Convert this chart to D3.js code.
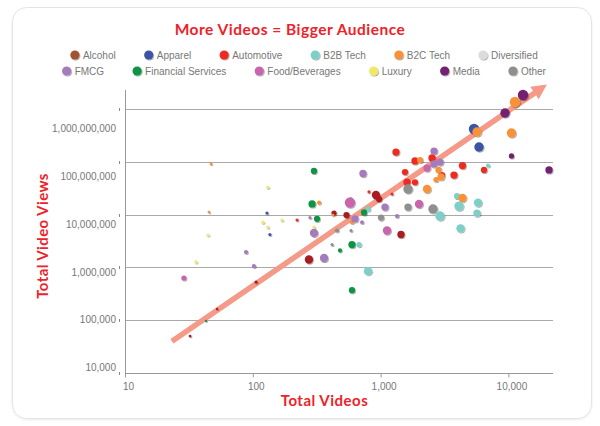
<!DOCTYPE html>
<html><head><meta charset="utf-8">
<script src="https://cdn.jsdelivr.net/npm/d3@7"></script>
<style>body{margin:0;background:#fff}svg{display:block}</style>
</head><body><svg id="c" width="600" height="426"></svg>
<script>
// ---------- DATA ----------
const categories = ["Alcohol","Apparel","Automotive","B2B Tech","B2C Tech","Diversified",
  "FMCG","Financial Services","Food/Beverages","Luxury","Media","Other"];
const legendRows = [categories.slice(0,6), categories.slice(6)];
const xTickValues = [10,100,1000,10000];
const yTickValues = [1e4,1e5,1e6,1e7,1e8,1e9];

// point series (index into categories), total videos, total video views, bubble size
const pointSeries = [
  0,0,0,0,0,0,0,0,0,
  1,1,1,1,1,
  2,2,2,2,2,2,2,2,2,2,2,2,2,
  3,3,3,3,3,3,3,3,3,3,
  4,4,4,4,4,4,4,4,4,4,4,4,4,4,
  6,6,6,6,6,6,6,6,6,6,6,6,6,
  7,7,7,7,7,7,7,7,
  8,8,8,8,8,
  9,9,9,9,9,9,9,
  10,10,10,10,
  11,11,11,11,11,11,11
];
const pointVideos = [
  106,275,432,541,920,972,1444,52.5,32.3,
  129,136,587,5381,5889,
  222,811,1228,1319,1858,2525,3023,3752,1552,1609,1858,4373,6444,
  797,678,797,2916,3962,4107,5783,5680,4220,6925,
  47.1,45.4,330,424,597,2034,2839,2969,2714,2308,4373,5680,10570,11260,
  88.5,102,280,301,361,728,630,715,1082,1344,2617,2617,2916,
  301,291,318,742,597,481,597,43,
  28.9,576,1122,1998,2308,
  131,120,131,169,301,44.6,35.9,
  13010,9406,10570,20790,
  456,417,587,1007,1638,1638,2570
];
const pointViews = [
  5.3e5,1.41e6,1.07e7,9.8e6,2.35e7,1.97e7,4.2e6,1.63e5,5.0e4,
  1.07e7,4.2e6,1.97e7,4.18e8,1.91e8,
  7.9e6,2.7e7,2.45e7,1.53e8,1.04e8,1.18e8,5.6e7,5.6e7,6.4e7,4.1e7,4.1e7,8.5e7,7.0e7,
  1.28e7,2.7e6,8.5e5,9.4e6,2.25e7,1.45e7,1.69e7,1.07e7,5.5e6,8.5e7,
  9.1e7,1.12e7,1.69e7,9.8e6,7.2e6,1.08e8,7.0e7,5.2e7,4.6e7,3.05e7,2.06e7,3.67e8,3.51e8,1.36e9,
  1.96e6,1.06e6,8.8e6,4.5e6,1.51e6,6.0e7,8.3e6,7.2e6,1.39e7,9.4e6,1.6e8,9.1e7,9.9e7,
  6.7e7,1.59e7,8.3e6,1.1e7,2.7e6,2.1e6,3.7e5,9.7e4,
  6.3e5,1.69e7,5.0e6,1.59e7,7.6e7,
  3.3e7,7.2e6,5.8e6,7.9e6,5.8e6,4.1e6,1.27e6,
  1.84e9,8.4e8,1.29e8,7.0e7,
  5.0e6,2.7e6,5.0e6,8.8e6,3.05e7,1.39e7,1.28e7
];
const pointSize = [
  0.9,6.4,2.5,3.6,6.4,3.6,4.9,0.5,0.7,
  0.9,0.9,0.9,10,8.1,
  0.9,0.9,0.9,4.9,4.9,4.9,3.6,4.9,3.6,4.9,3.6,4.9,3.6,
  2.5,2.5,6.4,8.1,3.6,8.1,6.4,4.9,6.4,1.6,
  0.7,0.7,1.6,0.7,1.6,3.6,3.6,4.9,2.5,6.4,6.4,8.1,8.1,10,
  1.6,1.6,0.9,6.4,6.4,4.9,4.9,1.3,4.9,1.6,4.9,4.9,4.9,
  3.6,4.9,3.6,3.6,4.9,1.6,3.6,0.5,
  2.5,10,6.4,6.4,4.9,
  0.9,0.9,0.9,0.9,0.9,0.9,0.9,
  10,8.1,2.5,4.9,
  1.6,0.9,0.9,3.6,8.1,4.9,8.1
];
// trend arrow (start, end) in data units
const trendVideos = [23.3, 20000];
const trendViews = [4.0e4, 2.9e9];

(function(){
// ---------- STYLE ----------
const colors = ["#a91d22","#3b55a4","#ee2a24","#7fcfc9","#f7923a","#dcdcdc",
  "#a57bbb","#0f9445","#c866ac","#f0e868","#72216f","#8f8f8f"];
const legendColors = colors.slice(); legendColors[0] = "#a0552f";
const RED = "#ee2229";
const labelFont = "'Liberation Sans', Arial, sans-serif";
const titleFont = "Lato, 'Open Sans', sans-serif";

const svg = d3.select("#c");
const defs = svg.append("defs");
const f = defs.append("filter").attr("id","sh").attr("x","-50%").attr("y","-50%").attr("width","200%").attr("height","200%");
f.append("feDropShadow").attr("dx",0.8).attr("dy",1).attr("stdDeviation",0.7)
  .attr("flood-color","#000").attr("flood-opacity",0.35);
const fc = defs.append("filter").attr("id","card").attr("x","-5%").attr("y","-5%").attr("width","110%").attr("height","110%");
fc.append("feDropShadow").attr("dx",0).attr("dy",1).attr("stdDeviation",1.2)
  .attr("flood-color","#000").attr("flood-opacity",0.08);

// card
svg.append("rect").attr("x",12.5).attr("y",7.5).attr("width",579).attr("height",411)
  .attr("rx",14).attr("fill","#fff").attr("stroke","#e4e4e4").attr("filter","url(#card)");

// title
svg.append("text").attr("x",290).attr("y",34.5).attr("text-anchor","middle")
  .attr("fill",RED).style("font-family",titleFont).style("font-weight","bold").style("font-size","15.5px")
  .style("letter-spacing","0.5px")
  .text("More Videos = Bigger Audience");

// scales
const pLeft = 125, pRight = 553, pTop = 90, pBottom = 373;
const x = d3.scaleLog().domain([10,10000]).range([pLeft,508.4]);
const y = d3.scaleLog().domain([1e4,1e9]).range([pBottom,109]);
const yLab = d3.scaleLog().domain([1e4,1e9]).range([367.5,128.5]);
const r = d3.scaleSqrt().domain([0,10]).range([0,5.2]);

// gridlines
svg.append("g").selectAll("line").data(yTickValues.slice(1)).join("line")
  .attr("x1",pLeft).attr("x2",pRight)
  .attr("y1",d=>Math.round(y(d))+0.5).attr("y2",d=>Math.round(y(d))+0.5)
  .attr("stroke","#a9a9a9");
// small y tick marks
svg.append("g").selectAll("line").data(yTickValues).join("line")
  .attr("x1",119.5).attr("x2",119.5)
  .attr("y1",d=>Math.round(y(d))-1).attr("y2",d=>Math.round(y(d))+2)
  .attr("stroke","#888");
// y labels
const yAx = svg.append("g").attr("transform",`translate(${pLeft},0)`)
  .call(d3.axisLeft(yLab).tickValues(yTickValues).tickSize(0).tickPadding(9).tickFormat(d3.format(",")));
yAx.select(".domain").remove();
yAx.selectAll("text").attr("fill","#777").style("font-family",labelFont).style("font-size","10px");

// axis lines
svg.append("line").attr("x1",pLeft+0.5).attr("x2",pLeft+0.5).attr("y1",pTop).attr("y2",pBottom).attr("stroke","#999");
const xAx = svg.append("g").attr("transform",`translate(0,${pBottom+0.5})`)
  .call(d3.axisBottom(x).tickValues(xTickValues).tickSize(4).tickPadding(5).tickFormat(d3.format(",")));
xAx.select(".domain").attr("d",`M${pLeft},0H${pRight}`).attr("stroke","#999");
xAx.selectAll(".tick line").attr("stroke","#999");
xAx.selectAll("text").attr("x",3).attr("fill","#777").style("font-family",labelFont).style("font-size","10px");

// axis titles
svg.append("text").attr("x",324.5).attr("y",405.5).attr("text-anchor","middle").attr("fill",RED)
  .style("font-family",titleFont).style("font-weight","bold").style("font-size","15px")
  .style("letter-spacing","0.5px").text("Total Videos");
svg.append("text").attr("transform","translate(48,236) rotate(-90)").attr("text-anchor","middle").attr("fill",RED)
  .style("font-family",titleFont).style("font-weight","bold").style("font-size","15px")
  .style("letter-spacing","0.4px").text("Total Video Views");

// trend arrow
const p0 = [x(trendVideos[0]), y(trendViews[0])], p1 = [x(trendVideos[1]), y(trendViews[1])];
const ang = Math.atan2(p1[1]-p0[1], p1[0]-p0[0]);
const headL = 15, headW = 7.5;
const bx = p1[0]-headL*Math.cos(ang), by = p1[1]-headL*Math.sin(ang);
const arrowCol = "#f59a89";
svg.append("line").attr("x1",p0[0]).attr("y1",p0[1]).attr("x2",bx+2*Math.cos(ang)).attr("y2",by+2*Math.sin(ang))
  .attr("stroke",arrowCol).attr("stroke-width",5.5);
svg.append("polygon").attr("fill",arrowCol).attr("points",[
  [p1[0],p1[1]],
  [bx+headW*Math.sin(ang), by-headW*Math.cos(ang)],
  [bx-headW*Math.sin(ang), by+headW*Math.cos(ang)]
].map(p=>p.join(",")).join(" "));

// points
const idx = d3.range(pointSeries.length);
svg.append("g").attr("filter","url(#sh)").selectAll("circle").data(idx).join("circle")
  .attr("cx",i=>x(pointVideos[i])).attr("cy",i=>y(pointViews[i]))
  .attr("r",i=>r(pointSize[i])).attr("fill",i=>colors[pointSeries[i]]);

// legend
const legendY = [55,71];
legendRows.forEach((row,ri)=>{
  const g = svg.append("g");
  let cx = 0;
  row.forEach((name)=>{
    const ci = categories.indexOf(name);
    const it = g.append("g").attr("transform",`translate(${cx},${legendY[ri]})`);
    it.append("circle").attr("r",4.6).attr("fill",legendColors[ci]).attr("filter","url(#sh)");
    const t = it.append("text").attr("x",8).attr("dy","0.35em").attr("fill","#777")
      .style("font-family",labelFont).style("font-size","10px").text(name);
    cx += 8 + t.node().getComputedTextLength() + 33;
  });
  const total = cx - 33 + 4.6;
  g.attr("transform",`translate(${304 - total/2 + 4.6},0)`);
});
})();
</script></body></html>
